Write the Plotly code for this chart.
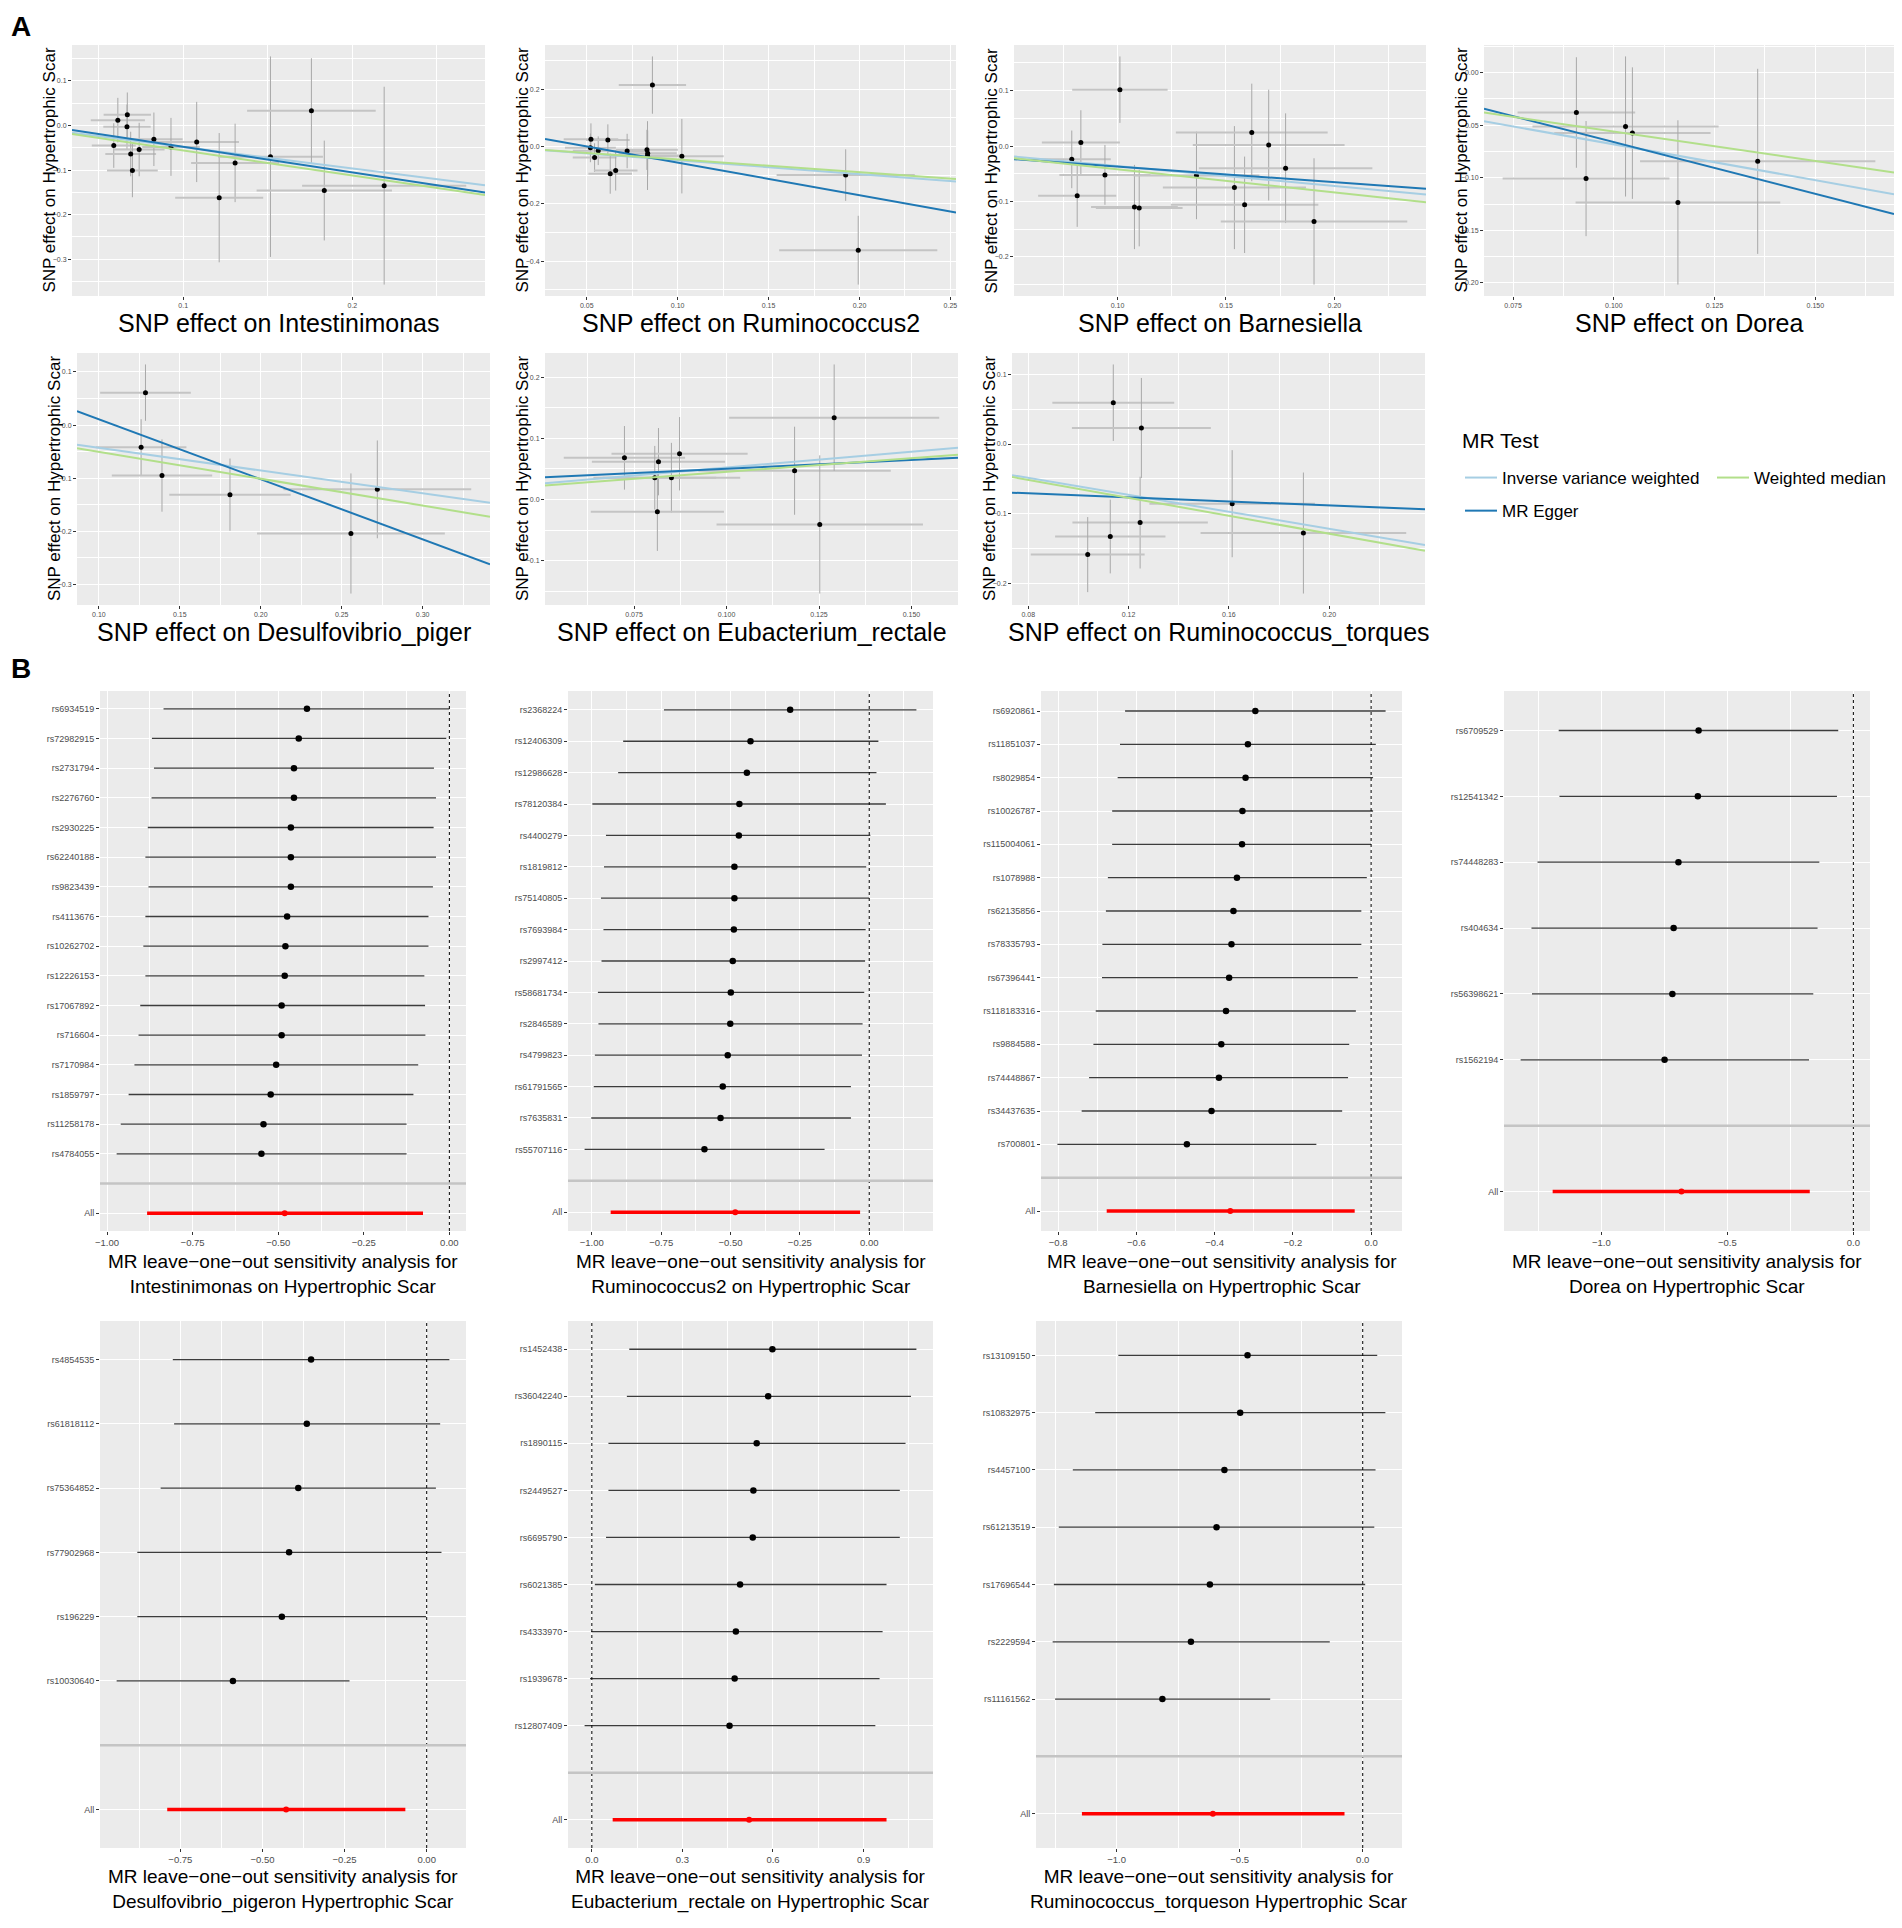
import plotly.graph_objects as go

W, H = 1902, 1928          # browser window
OFF = 8                    # default page margin around the plot div
FW, FH = W - 2 * OFF, H - 2 * OFF
FONT = "Liberation Sans Narrow, Liberation Sans, Arial, sans-serif"

# ---- exposures (gut microbiota) and outcome
exposures = ["Intestinimonas", "Ruminococcus2", "Barnesiella", "Dorea",
             "Desulfovibrio_piger", "Eubacterium_rectale", "Ruminococcus_torques"]
loo_title2 = ["Intestinimonas on Hypertrophic Scar", "Ruminococcus2 on Hypertrophic Scar",
              "Barnesiella on Hypertrophic Scar", "Dorea on Hypertrophic Scar",
              "Desulfovibrio_pigeron Hypertrophic Scar", "Eubacterium_rectale on Hypertrophic Scar",
              "Ruminococcus_torqueson Hypertrophic Scar"]

# ---- Panel A: SNP effect on exposure (bx) / outcome (by) with standard errors
intest_bx = [0.0614, 0.067, 0.0668, 0.059, 0.069, 0.074, 0.070, 0.0827, 0.0928, 0.108, 0.1307, 0.1213, 0.1516, 0.1758, 0.1834, 0.2188]
intest_by = [0.012, 0.024, -0.003, -0.045, -0.064, -0.054, -0.101, -0.031, -0.048, -0.037, -0.084, -0.162, -0.070, 0.033, -0.146, -0.135]
intest_sx = [0.016, 0.014, 0.014, 0.013, 0.015, 0.015, 0.015, 0.017, 0.017, 0.025, 0.026, 0.026, 0.031, 0.038, 0.040, 0.0485]
intest_sy = [0.05, 0.05, 0.05, 0.05, 0.05, 0.06, 0.06, 0.06, 0.065, 0.09, 0.088, 0.145, 0.225, 0.118, 0.112, 0.222]

rumi2_bx = [0.0523, 0.052, 0.0563, 0.0543, 0.0616, 0.0722, 0.0629, 0.0659, 0.0831, 0.0834, 0.0835, 0.0861, 0.1023, 0.1924, 0.1993]
rumi2_by = [0.0254, -0.005, -0.015, -0.039, 0.022, -0.016, -0.095, -0.084, -0.012, -0.032, -0.024, 0.214, -0.034, -0.100, -0.362]
rumi2_sx = [0.015, 0.014, 0.014, 0.012, 0.012, 0.011, 0.012, 0.012, 0.017, 0.020, 0.016, 0.0185, 0.023, 0.038, 0.0435]
rumi2_sy = [0.055, 0.05, 0.05, 0.05, 0.055, 0.06, 0.07, 0.07, 0.07, 0.12, 0.08, 0.1, 0.13, 0.09, 0.12]

barne_bx = [0.1011, 0.0831, 0.0789, 0.0814, 0.0942, 0.1078, 0.110, 0.1364, 0.1539, 0.1586, 0.1619, 0.1697, 0.1775, 0.1906]
barne_by = [0.1018, 0.0066, -0.024, -0.0898, -0.052, -0.110, -0.112, -0.053, -0.075, -0.106, 0.0246, 0.0018, -0.040, -0.136]
barne_sx = [0.022, 0.018, 0.018, 0.018, 0.021, 0.020, 0.020, 0.029, 0.033, 0.034, 0.035, 0.035, 0.040, 0.043]
barne_sy = [0.06, 0.058, 0.052, 0.056, 0.054, 0.076, 0.069, 0.079, 0.111, 0.087, 0.088, 0.1, 0.099, 0.114]

dorea_bx = [0.0907, 0.0931, 0.1029, 0.1046, 0.1159, 0.1357]
dorea_by = [-0.0379, -0.1008, -0.0512, -0.0575, -0.1235, -0.0844]
dorea_sx = [0.0146, 0.0207, 0.0231, 0.0194, 0.0254, 0.0292]
dorea_sy = [0.0526, 0.0548, 0.0667, 0.0626, 0.0782, 0.0881]

desul_bx = [0.1288, 0.1261, 0.139, 0.181, 0.272, 0.2557]
desul_by = [0.061, -0.042, -0.095, -0.131, -0.121, -0.204]
desul_sx = [0.028, 0.028, 0.031, 0.0375, 0.058, 0.058]
desul_sy = [0.053, 0.053, 0.068, 0.068, 0.092, 0.113]

eubac_bx = [0.0724, 0.0816, 0.0873, 0.0806, 0.0851, 0.0813, 0.1184, 0.1291, 0.1252]
eubac_by = [0.068, 0.0617, 0.0747, 0.0355, 0.0355, -0.0202, 0.0469, 0.1337, -0.0409]
eubac_sx = [0.0164, 0.018, 0.0184, 0.0166, 0.0186, 0.018, 0.026, 0.0284, 0.0279]
eubac_sy = [0.052, 0.055, 0.06, 0.052, 0.057, 0.064, 0.072, 0.087, 0.113]

rtorq_bx = [0.1139, 0.1251, 0.1613, 0.1246, 0.1127, 0.1037, 0.1897]
rtorq_by = [0.0594, 0.023, -0.0858, -0.113, -0.133, -0.159, -0.128]
rtorq_sx = [0.0243, 0.0277, 0.033, 0.027, 0.022, 0.0227, 0.041]
rtorq_sy = [0.055, 0.072, 0.077, 0.066, 0.053, 0.054, 0.087]

# MR estimates per exposure (IVW slope = leave-one-out "All" estimate below)
egger_slope = [-0.575, -1.136, -0.281, -0.985, -1.13, 0.283, -0.145]
egger_icpt = [0.0097, 0.057, -0.009, 0.0324, 0.124, 0.022, -0.0593]
wm_slope = [-0.56, -0.45, -0.419, -0.56, -0.505, 0.45, -0.645]

# ---- Panel B: leave-one-out IVW estimates (b, lower, upper); last entry = All
intest_snp = ["rs6934519", "rs72982915", "rs2731794", "rs2276760", "rs2930225", "rs62240188", "rs9823439", "rs4113676",
              "rs10262702", "rs12226153", "rs17067892", "rs716604", "rs7170984", "rs1859797", "rs11258178", "rs4784055"]
intest_b = [-0.416, -0.44, -0.454, -0.454, -0.463, -0.463, -0.463, -0.474, -0.479, -0.481, -0.49, -0.49, -0.506, -0.522, -0.543, -0.549, -0.481]
intest_lo = [-0.835, -0.869, -0.863, -0.870, -0.881, -0.888, -0.879, -0.888, -0.894, -0.888, -0.903, -0.908, -0.92, -0.937, -0.96, -0.972, -0.883]
intest_hi = [0.0, -0.009, -0.045, -0.039, -0.046, -0.039, -0.048, -0.061, -0.061, -0.073, -0.071, -0.070, -0.091, -0.105, -0.125, -0.125, -0.077]

rumi2_snp = ["rs2368224", "rs12406309", "rs12986628", "rs78120384", "rs4400279", "rs1819812", "rs75140805", "rs7693984",
             "rs2997412", "rs58681734", "rs2846589", "rs4799823", "rs61791565", "rs7635831", "rs55707116"]
rumi2_b = [-0.285, -0.428, -0.441, -0.468, -0.47, -0.486, -0.486, -0.488, -0.492, -0.499, -0.501, -0.51, -0.528, -0.536, -0.594, -0.483]
rumi2_lo = [-0.74, -0.887, -0.905, -0.998, -0.949, -0.956, -0.967, -0.958, -0.965, -0.978, -0.976, -0.989, -0.993, -1.002, -1.026, -0.932]
rumi2_hi = [0.17, 0.033, 0.026, 0.06, 0.004, -0.011, 0.0, -0.013, -0.015, -0.018, -0.024, -0.026, -0.066, -0.066, -0.161, -0.033]

barne_snp = ["rs6920861", "rs11851037", "rs8029854", "rs10026787", "rs115004061", "rs1078988", "rs62135856",
             "rs78335793", "rs67396441", "rs118183316", "rs9884588", "rs74448867", "rs34437635", "rs700801"]
barne_b = [-0.296, -0.315, -0.321, -0.329, -0.33, -0.343, -0.352, -0.357, -0.363, -0.371, -0.383, -0.389, -0.408, -0.471, -0.36]
barne_lo = [-0.629, -0.642, -0.648, -0.662, -0.662, -0.673, -0.678, -0.687, -0.688, -0.704, -0.71, -0.721, -0.74, -0.802, -0.676]
barne_hi = [0.037, 0.012, 0.005, 0.005, 0.0, -0.011, -0.025, -0.025, -0.034, -0.039, -0.056, -0.059, -0.074, -0.14, -0.042]

dorea_snp = ["rs6709529", "rs12541342", "rs74448283", "rs404634", "rs56398621", "rs1562194"]
dorea_b = [-0.614, -0.617, -0.694, -0.713, -0.718, -0.749, -0.682]
dorea_lo = [-1.169, -1.166, -1.253, -1.277, -1.275, -1.32, -1.193]
dorea_hi = [-0.06, -0.065, -0.135, -0.142, -0.159, -0.176, -0.173]

desul_snp = ["rs4854535", "rs61818112", "rs75364852", "rs77902968", "rs196229", "rs10030640"]
desul_b = [-0.352, -0.365, -0.391, -0.419, -0.441, -0.59, -0.428]
desul_lo = [-0.773, -0.769, -0.81, -0.881, -0.881, -0.944, -0.79]
desul_hi = [0.069, 0.041, 0.028, 0.045, -0.002, -0.235, -0.065]

eubac_snp = ["rs1452438", "rs36042240", "rs1890115", "rs2449527", "rs6695790", "rs6021385", "rs4333970",
             "rs1939678", "rs12807409"]
eubac_b = [0.598, 0.584, 0.546, 0.535, 0.533, 0.491, 0.477, 0.473, 0.456, 0.521]
eubac_lo = [0.124, 0.116, 0.055, 0.055, 0.047, 0.01, -0.002, -0.006, -0.024, 0.069]
eubac_hi = [1.075, 1.057, 1.039, 1.02, 1.02, 0.976, 0.963, 0.953, 0.939, 0.976]

rtorq_snp = ["rs13109150", "rs10832975", "rs4457100", "rs61213519", "rs17696544", "rs2229594", "rs11161562"]
rtorq_b = [-0.468, -0.498, -0.562, -0.594, -0.621, -0.698, -0.814, -0.609]
rtorq_lo = [-0.993, -1.087, -1.178, -1.235, -1.255, -1.26, -1.25, -1.141]
rtorq_hi = [0.059, 0.092, 0.052, 0.047, 0.01, -0.134, -0.376, -0.074]

scatter_sets = [
    (intest_bx, intest_by, intest_sx, intest_sy),
    (rumi2_bx, rumi2_by, rumi2_sx, rumi2_sy),
    (barne_bx, barne_by, barne_sx, barne_sy),
    (dorea_bx, dorea_by, dorea_sx, dorea_sy),
    (desul_bx, desul_by, desul_sx, desul_sy),
    (eubac_bx, eubac_by, eubac_sx, eubac_sy),
    (rtorq_bx, rtorq_by, rtorq_sx, rtorq_sy),
]
loo_sets = [
    (intest_snp, intest_b, intest_lo, intest_hi),
    (rumi2_snp, rumi2_b, rumi2_lo, rumi2_hi),
    (barne_snp, barne_b, barne_lo, barne_hi),
    (dorea_snp, dorea_b, dorea_lo, dorea_hi),
    (desul_snp, desul_b, desul_lo, desul_hi),
    (eubac_snp, eubac_b, eubac_lo, eubac_hi),
    (rtorq_snp, rtorq_b, rtorq_lo, rtorq_hi),
]

# ---- layout (window-pixel boxes of each plot panel)
A_BOX = [(72, 485, 45, 296), (545, 956, 45, 296), (1014, 1426, 45, 296), (1484, 1894, 45, 296),
         (77, 490, 353, 605), (545, 958, 353, 605), (1012, 1425, 353, 605)]
B_BOX = [(100, 466, 691, 1231), (568, 933, 691, 1231), (1041, 1402, 691, 1231), (1504, 1870, 691, 1231),
         (100, 466, 1321, 1848), (568, 933, 1321, 1848), (1036, 1402, 1321, 1848)]
B_TITLE_GAP = [18, 18, 18, 18, 16, 16, 16]
A_XTICK = [(0.1, ".1f"), (0.05, ".2f"), (0.05, ".2f"), (0.025, ".3f"), (0.05, ".2f"), (0.025, ".3f"), (0.04, ".2f")]
A_YTICK = [(0.1, ".1f"), (0.2, ".1f"), (0.1, ".1f"), (0.05, ".2f"), (0.1, ".1f"), (0.1, ".1f"), (0.1, ".1f")]
B_XTICK = [(0.25, ".2f"), (0.25, ".2f"), (0.2, ".1f"), (0.5, ".1f"), (0.25, ".2f"), (0.3, ".1f"), (0.5, ".1f")]

C_IVW, C_EGGER, C_WM = "#a6cee3", "#1f78b4", "#b2df8a"
BG = "#EBEBEB"
TICKFONT = dict(family="Liberation Sans, Arial", color="#4D4D4D")


def sfx(k):
    return "" if k == 1 else str(k)


def expand(lo, hi, f=0.05):
    d = (hi - lo) * f
    return [lo - d, hi + d]


def px(x):
    return (x - OFF) / FW


def py(y):
    return 1 - (y - OFF) / FH


def px_dom(box):
    x0, x1, y0, y1 = box
    return [px(x0), px(x1)], [py(y1), py(y0)]


def axis_style(dom, rng, dtick, fmt, anchor, fsize, minor=True):
    d = dict(domain=dom, range=rng, dtick=dtick, tick0=0, tickformat=fmt, anchor=anchor,
             showgrid=True, gridcolor="white", gridwidth=1.1, zeroline=False, showline=False,
             ticks="outside", ticklen=3, tickcolor="#333333", tickwidth=1,
             tickfont=dict(size=fsize, **TICKFONT), automargin=False)
    if minor:
        d["minor"] = dict(dtick=dtick / 2, tick0=0, showgrid=True, gridcolor="white", gridwidth=0.5)
    return d


def note(x, y, text, size, **kw):
    d = dict(x=px(x), y=py(y), xref="paper", yref="paper", text=text, showarrow=False,
             xanchor="center", yanchor="middle", font=dict(size=size, family=FONT, color="black"))
    d.update(kw)
    return d


fig = go.Figure()
layout = {}
annotations = []
shapes = []

# ---------------- Panel A: scatter plots
for i, (bx, by, sx, sy) in enumerate(scatter_sets):
    k = i + 1
    xa, ya = "x" + sfx(k), "y" + sfx(k)
    xr = expand(min(a - s for a, s in zip(bx, sx)), max(a + s for a, s in zip(bx, sx)))
    yr = expand(min(a - s for a, s in zip(by, sy)), max(a + s for a, s in zip(by, sy)))
    fig.add_trace(go.Scatter(
        x=bx, y=by, mode="markers", xaxis=xa, yaxis=ya, showlegend=False,
        marker=dict(color="black", size=5),
        error_x=dict(type="data", array=sx, color="#C4C4C4", thickness=2, width=0),
        error_y=dict(type="data", array=sy, color="#A8A8A8", thickness=1, width=0),
    ))
    ivw_b = loo_sets[i][1][-1]
    lines = [("Inverse variance weighted", ivw_b, 0.0, C_IVW, "legend"),
             ("MR Egger", egger_slope[i], egger_icpt[i], C_EGGER, "legend"),
             ("Weighted median", wm_slope[i], 0.0, C_WM, "legend2")]
    for name, slope, icpt, col, lg in lines:
        fig.add_trace(go.Scatter(
            x=xr, y=[icpt + slope * v for v in xr], mode="lines", name=name,
            line=dict(color=col, width=2), xaxis=xa, yaxis=ya,
            showlegend=(k == 1), legend=lg, legendgroup=name,
        ))
    xd, yd = px_dom(A_BOX[i])
    layout["xaxis" + sfx(k)] = axis_style(xd, xr, A_XTICK[i][0], A_XTICK[i][1], ya, 7)
    layout["yaxis" + sfx(k)] = axis_style(yd, yr, A_YTICK[i][0], A_YTICK[i][1], xa, 7)
    x0, x1, y0, y1 = A_BOX[i]
    annotations.append(note((x0 + x1) / 2, y1 + 27, "SNP effect on " + exposures[i], 25))
    annotations.append(note(x0 - 23, (y0 + y1) / 2, "SNP effect on Hypertrophic Scar", 17, textangle=-90,
                            font=dict(size=17, family="Liberation Sans, Arial", color="black")))

# ---------------- Panel B: leave-one-out forest plots
for i, (snp, b, lo, hi) in enumerate(loo_sets):
    k = i + 8
    xa, ya = "x" + sfx(k), "y" + sfx(k)
    n = len(snp)
    ypos = [n + 2 - j for j in range(n)]  # SNP rows top-down, blank row at 2, All at 1
    xr = expand(min(min(lo), 0.0), max(max(hi), 0.0))
    # dotted reference line at zero
    shapes.append(dict(type="line", xref=xa, yref=ya + " domain", x0=0, x1=0, y0=0, y1=1,
                       line=dict(color="black", width=1, dash="dot"), layer="above"))
    fig.add_trace(go.Scatter(
        x=b[:n], y=ypos, mode="markers", xaxis=xa, yaxis=ya, showlegend=False,
        marker=dict(color="black", size=6.5),
        error_x=dict(type="data", symmetric=False,
                     array=[h - v for h, v in zip(hi[:n], b[:n])],
                     arrayminus=[v - l for v, l in zip(b[:n], lo[:n])],
                     color="#3C3C3C", thickness=1.3, width=0),
    ))
    fig.add_trace(go.Scatter(
        x=[b[n]], y=[1], mode="markers", xaxis=xa, yaxis=ya, showlegend=False,
        marker=dict(color="red", size=6),
        error_x=dict(type="data", symmetric=False, array=[hi[n] - b[n]], arrayminus=[b[n] - lo[n]],
                     color="red", thickness=3.5, width=0),
    ))
    # grey separator at the blank row
    shapes.append(dict(type="line", xref=xa + " domain", yref=ya, x0=0, x1=1, y0=2, y1=2,
                       line=dict(color="#C4C4C4", width=2.5), layer="above"))
    xd, yd = px_dom(B_BOX[i])
    layout["xaxis" + sfx(k)] = axis_style(xd, xr, B_XTICK[i][0], B_XTICK[i][1], ya, 9.5)
    yax = axis_style(yd, [0.4, n + 2.6], 1, "", xa, 9, minor=False)
    yax.update(tickmode="array", tickvals=ypos + [1], ticktext=snp + ["All"])
    yax.pop("dtick")
    yax.pop("tick0")
    layout["yaxis" + sfx(k)] = yax
    x0, x1, y0, y1 = B_BOX[i]
    annotations.append(note((x0 + x1) / 2, y1 + B_TITLE_GAP[i],
                            "MR leave\u2212one\u2212out sensitivity analysis for<br>" + loo_title2[i], 19,
                            yanchor="top"))

# panel letters and legend heading
for letter, ypx in [("A", 9), ("B", 651)]:
    annotations.append(note(9, ypx, "<b>" + letter + "</b>", 28, xanchor="left", yanchor="top",
                            font=dict(size=28, family="Liberation Sans, Arial", color="black")))
annotations.append(note(1460, 440, "MR Test", 21, xanchor="left"))

fig.update_layout(
    width=FW, height=FH, margin=dict(l=0, r=0, t=0, b=0),
    paper_bgcolor="white", plot_bgcolor=BG,
    font=dict(family="Liberation Sans, Arial", color="black"),
    annotations=annotations, shapes=shapes,
    legend=dict(x=px(1460), y=py(460), xanchor="left", yanchor="top",
                font=dict(size=17, family=FONT), bgcolor="rgba(0,0,0,0)",
                tracegroupgap=8, itemwidth=32),
    legend2=dict(x=px(1712), y=py(460), xanchor="left", yanchor="top",
                 font=dict(size=17, family=FONT), bgcolor="rgba(0,0,0,0)", itemwidth=32),
    **layout,
)

fig.write_html("out.html")
